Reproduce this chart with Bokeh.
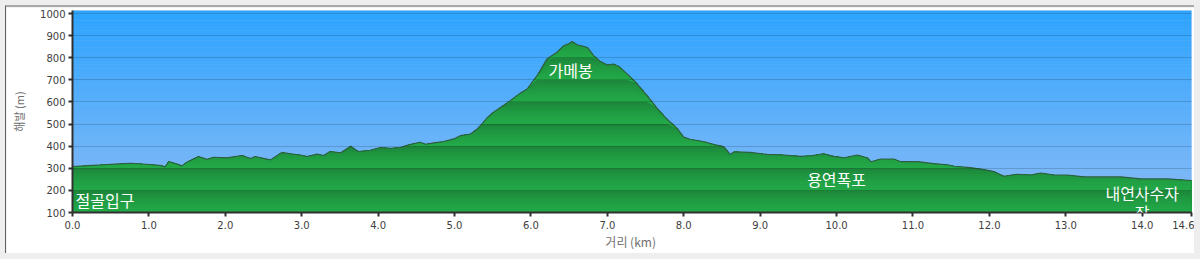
import numpy as np
from bokeh.plotting import figure
from bokeh.models import FixedTicker, Range1d, BoxAnnotation, Label
from bokeh.layouts import column
from bokeh.embed import file_html
from bokeh.resources import INLINE

# ---------------- data ----------------
distance_km = [0.00, 0.20, 0.41, 0.60, 0.76, 1.02, 1.17, 1.21, 1.26, 1.37, 1.43, 1.50,
               1.65, 1.76, 1.85, 2.02, 2.22, 2.33, 2.39, 2.59, 2.74, 2.85, 2.98, 3.07,
               3.20, 3.29, 3.37, 3.51, 3.64, 3.74, 3.90, 4.03, 4.16, 4.29, 4.40, 4.55,
               4.62, 4.73, 4.86, 4.99, 5.08, 5.21, 5.30, 5.37, 5.43, 5.51, 5.60, 5.73,
               5.86, 5.95, 6.08, 6.21, 6.34, 6.43, 6.50, 6.54, 6.61, 6.65, 6.74, 6.82,
               6.91, 7.00, 7.08, 7.15, 7.26, 7.39, 7.52, 7.65, 7.78, 7.92, 8.00, 8.09,
               8.18, 8.28, 8.40, 8.52, 8.61, 8.66, 8.87, 9.09, 9.31, 9.53, 9.66, 9.83,
               9.96, 10.10, 10.27, 10.40, 10.45, 10.58, 10.75, 10.84, 11.06, 11.27, 11.45,
               11.54, 11.75, 11.93, 12.06, 12.19, 12.36, 12.54, 12.67, 12.85, 13.02,
               13.24, 13.46, 13.72, 13.98, 14.33, 14.645]
elevation_m = [308, 312, 316, 320, 323, 317, 312, 306, 331, 319, 311, 328,
               353, 341, 350, 347, 358, 344, 353, 338, 372, 366, 360, 353,
               364, 358, 376, 370, 400, 376, 382, 394, 391, 394, 406, 418,
               409, 415, 421, 433, 448, 455, 479, 505, 530, 554, 575, 606,
               640, 659, 719, 795, 825, 855, 865, 874, 858, 855, 847, 810,
               783, 767, 772, 761, 727, 682, 629, 572, 523, 478, 441, 430,
               426, 419, 407, 399, 363, 375, 372, 363, 360, 354, 357, 366,
               354, 348, 360, 348, 330, 342, 342, 330, 330, 321, 316,
               309, 303, 294, 285, 264, 273, 270, 279, 270, 270,
               261, 261, 261, 252, 252, 245]

x_ticks = [0, 1, 2, 3, 4, 5, 6, 7, 8, 9, 10, 11, 12, 13, 14, 14.645]
x_tick_labels = ["0.0", "1.0", "2.0", "3.0", "4.0", "5.0", "6.0", "7.0", "8.0",
                 "9.0", "10.0", "11.0", "12.0", "13.0", "14.0", "14.6"]
y_ticks = [100, 200, 300, 400, 500, 600, 700, 800, 900, 1000]
y_tick_labels = ["100", "200", "300", "400", "500", "600", "700", "800", "900", "1000"]

waypoint_km = [0.0, 6.52, 10.0, 14.0]
waypoint_name = ["절골입구", "가메봉", "용연폭포", "내연사수자장"]
waypoint_label_m = [158, 745, 253, 190]
waypoint_align = ["left", "center", "center", "center"]
WRAP_CHARS = 5  # label wrap width in characters

x_label = "거리  (km)"
y_label = "해발 (m)"

# ---------------- figure ----------------
X_MAX = 14.645
Y_MIN, Y_MAX = 100, 1014

p = figure(width=1189, height=248, x_range=Range1d(0, X_MAX), y_range=Range1d(Y_MIN, Y_MAX),
           output_backend="svg", toolbar_location=None,
           min_border_left=66, min_border_right=4, min_border_top=3, min_border_bottom=43)
p.outline_line_color = None
p.background_fill_color = "#6fb0f8"
p.border_fill_color = "white"

# sky gradient (style only)
n_sky = 60
sky_top = np.array([44, 164, 255])
sky_bot = np.array([140, 188, 246])
edges = np.linspace(Y_MIN, Y_MAX, n_sky + 1)
for i in range(n_sky):
    t = (edges[i] + edges[i + 1]) / 2
    f = (t - Y_MIN) / (Y_MAX - Y_MIN)
    c = sky_bot + (sky_top - sky_bot) * f
    p.add_layout(BoxAnnotation(bottom=edges[i], top=edges[i + 1] + 0.5, level="underlay",
                               fill_color="#%02x%02x%02x" % tuple(int(v) for v in c),
                               fill_alpha=1.0, line_color=None))

# green banded fill (style only): each 100 m band darker at top, lighter below
x = np.array(distance_km)
e = np.array(elevation_m, dtype=float)
dark = np.array([27, 124, 55])
light = np.array([35, 170, 72])
sub = 8
for band_top in range(1000, 100, -100):
    for j in range(sub):
        s1 = band_top - j * (100 / sub)
        f = ((j + 0.5) / sub) ** 0.5
        c = dark + (light - dark) * f
        p.varea(x=x, y1=np.full_like(e, Y_MIN), y2=np.minimum(e, s1),
                fill_color="#%02x%02x%02x" % tuple(int(v) for v in c), fill_alpha=1.0)

p.line(x=x, y=e, line_color="#2f5e42", line_width=1.1)

# waypoint labels (wrapped to WRAP_CHARS per line)
for km, name, lm, al in zip(waypoint_km, waypoint_name, waypoint_label_m, waypoint_align):
    lines = [name[i:i + WRAP_CHARS] for i in range(0, len(name), WRAP_CHARS)]
    for k, line in enumerate(lines):
        p.add_layout(Label(x=km, y=lm, text=line, text_align=al, text_baseline="middle",
                           x_offset=3 if al == "left" else 0, y_offset=-19 * k,
                           text_color="white", text_font="Noto Sans CJK KR",
                           text_font_size="16px"))

# axes
p.xaxis.ticker = FixedTicker(ticks=x_ticks)
p.xaxis.major_label_overrides = {t: l for t, l in zip(x_ticks, x_tick_labels)}
p.yaxis.ticker = FixedTicker(ticks=y_ticks)
p.yaxis.major_label_overrides = {t: l for t, l in zip(y_ticks, y_tick_labels)}
for ax in (p.xaxis[0], p.yaxis[0]):
    ax.axis_line_color = "#303030"
    ax.axis_line_width = 2
    ax.major_tick_line_color = "#303030"
    ax.major_tick_line_width = 2
    ax.major_tick_out = 4
    ax.major_tick_in = 0
    ax.minor_tick_line_color = None
    ax.major_label_text_font = "DejaVu Sans"
    ax.major_label_text_font_size = "10px"
    ax.major_label_text_color = "#404040"
    ax.axis_label_text_font = "Noto Sans CJK KR"
    ax.axis_label_text_font_style = "normal"
    ax.axis_label_text_color = "#707070"
p.xaxis.axis_label = x_label
p.yaxis.axis_label = y_label
p.xaxis.axis_label_text_font_size = "12px"
p.yaxis.axis_label_text_font_size = "11px"
p.xaxis.major_label_standoff = 4
p.xaxis.axis_label_standoff = 1
p.yaxis.major_label_standoff = 3
p.yaxis.axis_label_standoff = 10

p.xgrid.grid_line_color = None
p.ygrid.ticker = FixedTicker(ticks=y_ticks)
p.ygrid.grid_line_color = "black"
p.ygrid.grid_line_alpha = 0.16
p.ygrid.grid_line_width = 1
p.ygrid.level = "overlay"

p.styles = {"margin-left": "5px", "margin-top": "5px",
            "border-left": "1px solid #606060", "border-top": "2px solid #a8a8a8"}

layout = column(p, width=1200, height=259, styles={"background-color": "#eeeeee"})

open("out.html", "w").write(file_html(layout, INLINE))
